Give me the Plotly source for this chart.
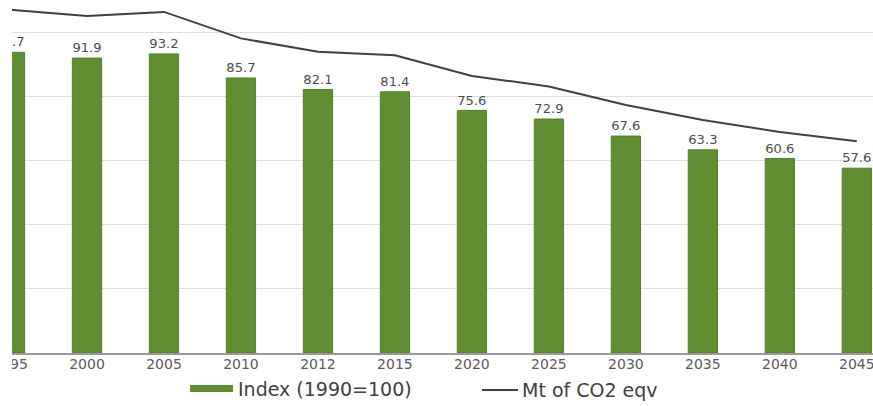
import plotly.graph_objects as go

# Emission index and absolute emissions by year
years = ["1995", "2000", "2005", "2010", "2012", "2015",
         "2020", "2025", "2030", "2035", "2040", "2045"]
index_1990 = [93.7, 91.9, 93.2, 85.7, 82.1, 81.4,
              75.6, 72.9, 67.6, 63.3, 60.6, 57.6]
mt_co2_eqv = [77.8, 76.4, 77.3, 71.3, 68.3, 67.5,
              62.8, 60.4, 56.2, 52.8, 50.1, 48.0]

BAR_GREEN = "#5f8f30"
LINE_BROWN = "#4a3d37"
TEXT_GREY = "#4d4d4d"

W, H = 873, 406
ML, MR, MT, MB = 10, 0, 0, 53
PW, PH = W - ML - MR, H - MT - MB


def px_x(p):
    return (p - ML) / PW


def px_y(p):
    return (H - MB - p) / PH


fig = go.Figure()

fig.add_trace(go.Bar(
    x=list(range(len(years))),
    y=index_1990,
    name="Index (1990=100)",
    marker=dict(color=BAR_GREEN, line=dict(color="#557f2c", width=1)),
    width=0.38,
    text=[f"{v:.1f}" for v in index_1990],
    textposition="outside",
    textfont=dict(family="DejaVu Sans", size=14, color=TEXT_GREY),
    cliponaxis=True,
    showlegend=False,
))

fig.add_trace(go.Scatter(
    x=list(range(len(years))),
    y=mt_co2_eqv,
    name="Mt of CO2 eqv",
    mode="lines",
    line=dict(color=LINE_BROWN, width=2),
    yaxis="y2",
    showlegend=False,
))

fig.update_layout(
    width=W, height=H,
    margin=dict(l=ML, r=MR, t=MT, b=MB, pad=0, autoexpand=False),
    paper_bgcolor="white",
    plot_bgcolor="white",
    xaxis=dict(
        tickmode="array",
        tickvals=list(range(len(years))),
        ticktext=years,
        range=[0, 11.21],
        automargin=False,
        showgrid=False,
        zeroline=False,
        showline=True,
        linecolor="#9a9a9a",
        linewidth=1.5,
        ticks="",
        ticklabeloverflow="allow",
        ticklabelstandoff=-3,
        tickfont=dict(family="DejaVu Sans", size=14, color="#5a5a5a"),
    ),
    yaxis=dict(
        range=[0, 110],
        tickvals=[20, 40, 60, 80, 100],
        showticklabels=False,
        automargin=False,
        showgrid=True,
        gridcolor="#dedede",
        gridwidth=1,
        zeroline=False,
        showline=False,
    ),
    yaxis2=dict(
        range=[0, 80],
        overlaying="y",
        side="right",
        visible=False,
    ),
    showlegend=False,
    font=dict(family="DejaVu Sans"),
)

# white strip at the left edge of the canvas
fig.add_shape(type="rect", xref="paper", yref="paper",
              x0=px_x(-2), x1=px_x(12), y0=px_y(H + 2), y1=px_y(-2),
              fillcolor="white", line=dict(width=0), layer="above")

# legend: bar swatch + label, line swatch + label
fig.add_shape(type="rect", xref="paper", yref="paper",
              x0=px_x(190), x1=px_x(233), y0=px_y(392), y1=px_y(385),
              fillcolor=BAR_GREEN, line=dict(width=0), layer="above")
fig.add_annotation(xref="paper", yref="paper", x=px_x(236), y=px_y(389),
                   xanchor="left", yanchor="middle", showarrow=False,
                   text="Index (1990=100)",
                   font=dict(family="DejaVu Sans", size=19, color="#404040"))
fig.add_shape(type="line", xref="paper", yref="paper",
              x0=px_x(482), x1=px_x(518), y0=px_y(390), y1=px_y(390),
              line=dict(color=LINE_BROWN, width=2), layer="above")
fig.add_annotation(xref="paper", yref="paper", x=px_x(520), y=px_y(390),
                   xanchor="left", yanchor="middle", showarrow=False,
                   text="Mt of CO2 eqv",
                   font=dict(family="DejaVu Sans", size=19, color="#404040"))

fig.write_html("out.html")
